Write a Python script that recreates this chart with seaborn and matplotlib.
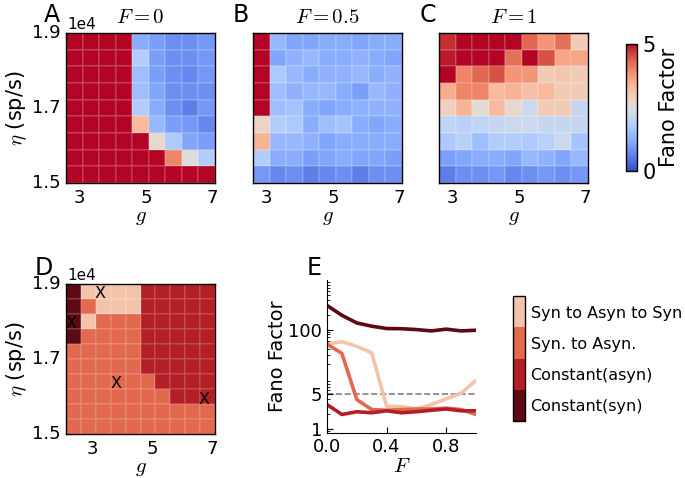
import numpy as np
import pandas as pd
import seaborn as sns
import matplotlib.pyplot as plt
from matplotlib.colors import ListedColormap
from matplotlib.ticker import NullFormatter

sns.set_style("ticks")
plt.rcParams["font.family"] = ["DejaVu Sans"]
plt.rcParams["mathtext.fontset"] = "cm"
for k in ["text.color", "axes.labelcolor", "xtick.color", "ytick.color", "axes.edgecolor"]:
    plt.rcParams[k] = "black"

# --- Fano factor maps (rows: eta 1.9e4 at top -> 1.5e4 at bottom, cols: g small -> large)
R = 5.0  # saturated cells
fano_F0 = [
    [R, R, R, R, 1.2, 1.0, 0.8, 0.8, 0.9],
    [R, R, R, R, 1.8, 1.0, 0.8, 0.8, 0.9],
    [R, R, R, R, 1.5, 1.0, 0.8, 0.7, 0.9],
    [R, R, R, R, 1.5, 1.1, 0.8, 0.8, 0.8],
    [R, R, R, R, 1.8, 1.2, 0.8, 0.6, 0.9],
    [R, R, R, R, 3.3, 1.4, 1.0, 0.9, 0.7],
    [R, R, R, R, R, 2.7, 1.7, 1.1, 1.0],
    [R, R, R, R, R, R, 4.0, 2.5, 1.8],
    [R, R, R, R, R, R, R, R, R],
]
fano_F05 = [
    [R, 1.4, 1.1, 1.1, 1.2, 1.2, 1.1, 1.2, 1.2],
    [R, 1.1, 1.3, 1.4, 1.2, 1.2, 1.3, 1.2, 1.1],
    [R, 1.7, 1.4, 1.2, 1.3, 1.3, 1.4, 1.2, 1.3],
    [R, 1.5, 1.3, 1.4, 1.4, 1.2, 1.0, 1.4, 1.3],
    [R, 1.5, 1.6, 1.2, 1.1, 1.2, 1.3, 1.3, 1.3],
    [2.8, 1.8, 1.7, 1.2, 1.5, 1.6, 1.2, 1.1, 1.2],
    [3.4, 1.4, 1.4, 1.3, 1.1, 1.2, 1.2, 1.2, 1.2],
    [1.8, 1.2, 1.2, 1.0, 1.1, 1.2, 1.1, 1.1, 1.0],
    [0.9, 0.7, 0.8, 0.6, 0.7, 0.8, 0.6, 0.8, 0.8],
]
fano_F1 = [
    [4.8, 5.0, 5.0, 5.0, 5.0, 4.3, 3.8, 4.2, 3.0],
    [4.9, 5.0, 5.0, 5.0, 4.2, 5.0, 4.5, 3.6, 3.6],
    [5.0, 4.0, 4.3, 4.5, 3.8, 3.8, 3.0, 3.1, 3.0],
    [3.5, 4.0, 4.0, 3.3, 3.4, 3.2, 3.3, 3.0, 3.0],
    [2.9, 3.4, 2.6, 3.3, 2.7, 2.2, 3.0, 3.0, 2.1],
    [2.0, 1.9, 2.0, 2.1, 2.2, 2.2, 2.1, 2.1, 2.1],
    [1.7, 1.9, 1.5, 1.8, 1.8, 1.7, 1.9, 2.2, 1.6],
    [1.0, 1.1, 1.2, 1.2, 1.1, 1.4, 1.3, 1.1, 1.4],
    [0.6, 0.8, 0.8, 0.9, 0.7, 0.8, 0.9, 0.8, 0.9],
]
F_titles = ["0", "0.5", "1"]

# --- regime map (0 Constant(syn), 1 Constant(asyn), 2 Syn. to Asyn., 3 Syn to Asyn to Syn)
regime = [
    [0, 3, 3, 3, 3, 1, 1, 1, 1, 1],
    [0, 2, 3, 3, 3, 1, 1, 1, 1, 1],
    [0, 3, 2, 2, 2, 1, 1, 1, 1, 1],
    [0, 2, 2, 2, 2, 1, 1, 1, 1, 1],
    [2, 2, 2, 2, 2, 1, 1, 1, 1, 1],
    [2, 2, 2, 2, 2, 1, 1, 1, 1, 1],
    [2, 2, 2, 2, 2, 2, 1, 1, 1, 1],
    [2, 2, 2, 2, 2, 2, 2, 1, 1, 1],
    [2, 2, 2, 2, 2, 2, 2, 2, 2, 2],
    [2, 2, 2, 2, 2, 2, 2, 2, 2, 2],
]
regime_names = ["Constant(syn)", "Constant(asyn)", "Syn. to Asyn.", "Syn to Asyn to Syn"]
regime_colors = ["#5e0913", "#b41f27", "#e2694e", "#f3c4aa"]

# example points marked on panel D
g_marks = [3.25, 2.27, 3.77, 6.74]
eta_marks = [1.876, 1.794, 1.635, 1.592]

# --- panel E: Fano factor vs F for the marked points
F_vals = [0.0, 0.1, 0.2, 0.3, 0.4, 0.5, 0.6, 0.7, 0.8, 0.9, 1.0]
fano_curves = {
    "Constant(syn)": [307, 194, 136, 117, 105, 104, 100, 94, 102, 94, 97],
    "Constant(asyn)": [3.07, 1.94, 2.2, 2.1, 2.3, 2.1, 2.2, 2.36, 2.5, 2.3, 2.3],
    "Syn. to Asyn.": [51, 33, 3.86, 2.44, 2.36, 2.44, 2.5, 2.5, 2.6, 2.44, 1.94],
    "Syn to Asyn to Syn": [51, 57, 46, 34, 2.84, 2.8, 2.5, 3.07, 4.0, 5.2, 9.4],
}

g_ticks = [3, 5, 7]
eta_ticks = ["1.9", "1.7", "1.5"]

W, H = 685, 478
fig = plt.figure(figsize=(W / 100, H / 100), dpi=100)


def px_axes(left, top, right, bottom):
    return fig.add_axes([left / W, 1 - bottom / H, (right - left) / W, (bottom - top) / H])


TICK = 13
LAB = 15


def style_heat(ax, g_lo, g_hi, show_y):
    for sp in ax.spines.values():
        sp.set_visible(True)
        sp.set_color("black")
        sp.set_linewidth(1.0)
    xmax = ax.get_xlim()[1]
    ymax = ax.get_ylim()[0]
    ax.set_xticks([(g - g_lo) / (g_hi - g_lo) * xmax for g in g_ticks])
    ax.set_xticklabels([str(g) for g in g_ticks], rotation=0, fontsize=TICK)
    ax.set_yticks([0, ymax / 2, ymax])
    if show_y:
        ax.set_yticklabels(eta_ticks, rotation=0, fontsize=TICK)
        ax.set_ylabel(r"$\eta$ (sp/s)", fontsize=LAB, labelpad=2)
        ax.text(0.01, 1.005, "1e4", transform=ax.transAxes, fontsize=11,
                ha="left", va="bottom")
    else:
        ax.set_yticklabels([])
    ax.set_xlabel(r"$g$", fontsize=LAB, labelpad=0)
    ax.tick_params(direction="in", top=True, right=True, length=4, width=0.8, pad=4)


# top row heatmaps
boxes = [(66, 33, 215, 183), (253, 33, 402, 183), (439, 33, 588, 183)]
cax = px_axes(626, 44, 637, 171)
for i, (data, ft, box) in enumerate(zip([fano_F0, fano_F05, fano_F1], F_titles, boxes)):
    ax = px_axes(*box)
    last = i == 2
    sns.heatmap(np.array(data), ax=ax, cmap="coolwarm", vmin=0, vmax=5,
                cbar=last, cbar_ax=cax if last else None,
                cbar_kws={"ticks": [0, 5]} if last else None,
                linewidths=0.3, linecolor=(1, 1, 1, 0.12))
    style_heat(ax, 2.58, 7.08, i == 0)
    ax.set_title(r"$F=%s$" % ft, fontsize=15, pad=7)
    if last:
        cb = ax.collections[0].colorbar
        cb.outline.set_linewidth(1.0)
        cb.outline.set_edgecolor("black")
        cax.tick_params(labelsize=15, length=0, pad=4)
        cax.set_ylabel("Fano Factor", fontsize=15, labelpad=2)

# panel D
axD = px_axes(66, 284, 215, 434)
lax = px_axes(513, 296, 525, 421)
sns.heatmap(np.array(regime), ax=axD, cmap=ListedColormap(regime_colors),
            vmin=-0.5, vmax=3.5, cbar=True, cbar_ax=lax,
            cbar_kws={"ticks": [0, 1, 2, 3]},
            linewidths=0.3, linecolor=(1, 1, 1, 0.1))
style_heat(axD, 2.1, 7.1, True)
nr = len(regime)
nc = len(regime[0])
for g, e in zip(g_marks, eta_marks):
    axD.text((g - 2.1) / 5.0 * nc, (1.9 - e) / 0.4 * nr, "X", fontsize=11.5,
             ha="center", va="center", color="black")
cbl = axD.collections[0].colorbar
cbl.outline.set_linewidth(1.0)
cbl.outline.set_edgecolor("black")
lax.set_yticklabels(regime_names)
lax.tick_params(labelsize=11.5, direction="in", length=4, width=0.8, pad=4)

# panel E
axE = px_axes(327, 280, 476, 433)
df = pd.DataFrame([
    {"F": f, "fano": v, "regime": name}
    for name, vals in fano_curves.items() for f, v in zip(F_vals, vals)
])
order = ["Syn to Asyn to Syn", "Syn. to Asyn.", "Constant(asyn)", "Constant(syn)"]
pal = dict(zip(regime_names, regime_colors))
sns.lineplot(data=df, x="F", y="fano", hue="regime", hue_order=order, palette=pal,
             estimator=None, lw=2.6, ax=axE, legend=False)
axE.axhline(5, color="grey", ls="--", lw=1.2, zorder=0)
axE.set_yscale("log")
axE.set_ylim(0.82, 1000)
axE.set_xlim(0, 1)
axE.set_yticks([1, 5, 100])
axE.set_yticklabels(["1", "5", "100"])
axE.yaxis.set_minor_formatter(NullFormatter())
axE.set_xticks([0.0, 0.4, 0.8])
axE.set_xticklabels(["0.0", "0.4", "0.8"])
axE.tick_params(direction="in", labelsize=TICK, length=4, width=0.8)
axE.tick_params(which="minor", direction="in", length=2, width=0.6)
axE.set_xlabel(r"$F$", fontsize=LAB, labelpad=0)
axE.set_ylabel("Fano Factor", fontsize=14, labelpad=1)
sns.despine(ax=axE)

# panel letters
for letter, x, y in [("A", 44, 22), ("B", 233, 22), ("C", 420, 22), ("D", 35, 275), ("E", 307, 275)]:
    fig.text(x / W, 1 - y / H, letter, fontsize=17, ha="left", va="baseline")

fig.savefig("out.png", dpi=100)
